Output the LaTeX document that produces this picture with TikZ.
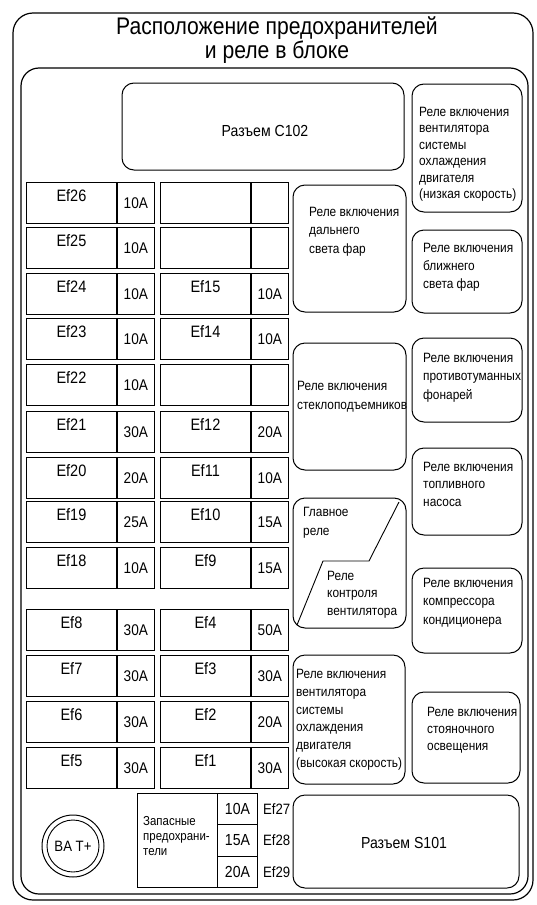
\documentclass[tikz,border=0pt]{standalone}
\usepackage{fontspec}
\setmainfont[FakeStretch=0.88]{Liberation Sans}

\tikzset{
  cell/.style={draw, line width=0.9pt, anchor=north west, minimum width=90pt, minimum height=41pt},
  ampcell/.style={cell, minimum width=37pt},
  relay/.style={draw, line width=1pt, rounded corners=12pt},
  relaytxt/.style={anchor=north west, align=left, font=\fontsize{13.5}{#1}\selectfont},
  relaytxt/.default=18
}

\begin{document}
\begin{tikzpicture}[x=1pt, y=-1pt, every node/.style={inner sep=0pt, font=\fontsize{14}{18}\selectfont}]
\useasboundingbox (0,0) rectangle (536,905);

% Frames
\draw[line width=1.2pt, rounded corners=20pt] (13,13) rectangle (533,900);
\draw[line width=1.2pt, rounded corners=18pt] (21,68) rectangle (528,894);
\node[align=center, font=\fontsize{24}{20.5}\selectfont] (title) at (277,40) {Расположение предохранителей\\и реле в блоке};

% Connectors
\draw[relay] (122,83) rectangle (404,170);
\node[font=\fontsize{16}{18}\selectfont] (c102) at (265,131) {Разъем C102};
\draw[relay] (293,795) rectangle (519,888);
\node[font=\fontsize{16}{18}\selectfont] (s101) at (404,843) {Разъем S101};

% Fuses
\foreach \n/\x/\y/\lab/\amp in {
  26/26/182/Ef26/10A, 25/26/227/Ef25/10A, 24/26/273/Ef24/10A, 23/26/318/Ef23/10A,
  22/26/364/Ef22/10A, 21/26/411/Ef21/30A, 20/26/457/Ef20/20A, 19/26/501/Ef19/25A,
  18/26/547/Ef18/10A, 8/26/609/Ef8/30A, 7/26/655/Ef7/30A, 6/26/701/Ef6/30A, 5/26/747/Ef5/30A,
  e1/160/182//, e2/160/227//, 15/160/273/Ef15/10A, 14/160/318/Ef14/10A,
  e3/160/364//, 12/160/411/Ef12/20A, 11/160/457/Ef11/10A, 10/160/501/Ef10/15A,
  9/160/547/Ef9/15A, 4/160/609/Ef4/50A, 3/160/655/Ef3/30A, 2/160/701/Ef2/20A, 1/160/747/Ef1/30A}{
  \node[cell] (n\n) at (\x,\y) {};
  \node[ampcell] (a\n) at (n\n.north east) {};
  \node[font=\fontsize{16.5}{18}\selectfont] (t\n) at ([yshift=-14pt]n\n.north) {\lab};
  \node[font=\fontsize{15.5}{18}\selectfont] (v\n) at ([yshift=-21pt]a\n.north) {\amp};
}

% Relays, middle column
\draw[relay] (293,185) rectangle (406,312);
\node[relaytxt=18.5] (hibeam) at (309,207) {Реле включения\\дальнего\\света фар};
\draw[relay] (293,343) rectangle (406,470);
\node[relaytxt=19] (windows) at (297,381) {Реле включения\\стеклоподъемников};
\draw[relay] (293,498) rectangle (406,628);
\draw[line width=0.9pt] (399,502) -- (369,561) -- (323,561) -- (297,625);
\node[relaytxt=19] (mainrel) at (303,507) {Главное\\реле};
\node[relaytxt=17.5] (fanctl) at (327,571) {Реле\\контроля\\вентилятора};
\draw[relay] (293,655) rectangle (405,784);
\node[relaytxt=17.8] (fanhi) at (296,669) {Реле включения\\вентилятора\\системы\\охлаждения\\двигателя\\(высокая скорость)};

% Relays, right column
\draw[relay] (412,84) rectangle (522,212);
\node[relaytxt=16.4] (fanlo) at (419,107) {Реле включения\\вентилятора\\системы\\охлаждения\\двигателя\\(низкая скорость)};
\draw[relay] (412,230) rectangle (522,313);
\node[relaytxt] (lobeam) at (423,243) {Реле включения\\ближнего\\света фар};
\draw[relay] (412,338) rectangle (522,422);
\node[relaytxt=18.5] (fog) at (423,353) {Реле включения\\противотуманных\\фонарей};
\draw[relay] (412,448) rectangle (522,535);
\node[relaytxt=17.5] (pump) at (423,462) {Реле включения\\топливного\\насоса};
\draw[relay] (412,568) rectangle (522,653);
\node[relaytxt=18.5] (aircon) at (423,578) {Реле включения\\компрессора\\кондиционера};
\draw[relay] (412,692) rectangle (520,783);
\node[relaytxt=17] (park) at (427,707) {Реле включения\\стояночного\\освещения};

% Spare fuses
\node[cell, minimum width=80pt, minimum height=94pt] (spare) at (137,793) {};
\node[relaytxt=15, font=\fontsize{13}{15}\selectfont] (sparetxt) at (143,816) {Запасные\\предохрани-\\тели};
\foreach \k/\y/\amp in {27/793/10A, 28/824.3/15A, 29/855.7/20A}{
  \node[cell, minimum width=40pt, minimum height=31.3pt] (s\k) at (217,\y) {};
  \node[font=\fontsize{16}{18}\selectfont] (sa\k) at (s\k.center) {\amp};
  \node[anchor=west, font=\fontsize{15}{18}\selectfont] (sl\k) at ([xshift=5pt]s\k.east) {Ef\k};
}

% Battery terminal
\draw[line width=1pt] (73,846) circle (31);
\draw[line width=0.9pt] (73,846) circle (26);
\node[font=\fontsize{15}{18}\selectfont] (bat) at (73,846) {BA T+};

\end{tikzpicture}
\end{document}
